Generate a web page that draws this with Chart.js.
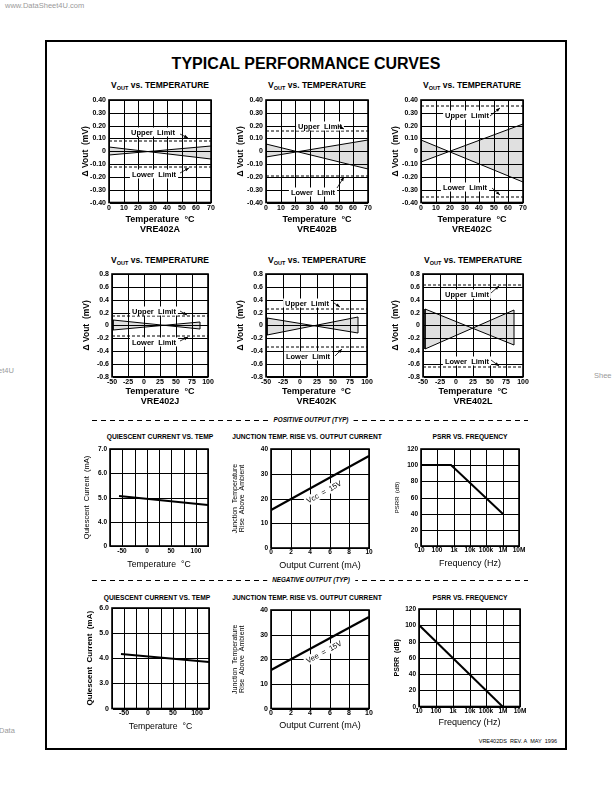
<!DOCTYPE html>
<html>
<head>
<meta charset="utf-8">
<title>VRE402 Typical Performance Curves</title>
<script src="https://cdn.jsdelivr.net/npm/chart.js@4.4.1/dist/chart.umd.min.js"></script>
<style>
  html, body { margin: 0; padding: 0; background: #fff; }
  body { position: relative; width: 612px; height: 792px; overflow: hidden; font-family: "Liberation Sans", Arial, sans-serif; color: #000; }
  canvas { position: absolute; }
  .t { position: absolute; white-space: nowrap; transform: translate(-50%, -50%); line-height: 1; }
  .sub { font-size: 5.5px; vertical-align: -1.5px; }
  .frame { position: absolute; left: 45px; top: 40px; width: 518px; height: 706px; border: 2px solid #000; }
  .sep { position: absolute; height: 1px; background: repeating-linear-gradient(to right, #000 0 5px, transparent 5px 9px); }
  .sepText { background: #fff; padding: 0 5px; font-size: 6.3px; font-weight: bold; font-style: italic; }
  .wm { position: absolute; color: #9a9a9a; font-size: 7.5px; white-space: nowrap; line-height: 1; }
</style>
</head>
<body>
<div class="wm" style="left:5px;top:2px">www.DataSheet4U.com</div>
<div class="wm" style="left:-2px;top:367px">et4U</div>
<div class="wm" style="left:594px;top:372px">Shee</div>
<div class="wm" style="left:-1px;top:727px">Data</div>
<div class="frame"></div>
<div class="t" style="left:306px;top:64px;font-size:16px;font-weight:bold">TYPICAL PERFORMANCE CURVES</div>

<div class="t" style="left:160px;top:86px;font-size:8.5px;font-weight:bold">V<span class="sub">OUT</span> vs. TEMPERATURE</div>
<div class="t" style="left:317px;top:86px;font-size:8.5px;font-weight:bold">V<span class="sub">OUT</span> vs. TEMPERATURE</div>
<div class="t" style="left:472px;top:86px;font-size:8.5px;font-weight:bold">V<span class="sub">OUT</span> vs. TEMPERATURE</div>
<div class="t" style="left:160px;top:261px;font-size:8.5px;font-weight:bold">V<span class="sub">OUT</span> vs. TEMPERATURE</div>
<div class="t" style="left:317px;top:261px;font-size:8.5px;font-weight:bold">V<span class="sub">OUT</span> vs. TEMPERATURE</div>
<div class="t" style="left:473px;top:261px;font-size:8.5px;font-weight:bold">V<span class="sub">OUT</span> vs. TEMPERATURE</div>

<div class="sep" style="left:92px;top:420px;width:436px"></div>
<div class="t sepText" style="left:311px;top:420px">POSITIVE OUTPUT (TYP)</div>
<div class="t" style="left:160px;top:437px;font-size:6.7px;font-weight:bold">QUIESCENT CURRENT VS. TEMP</div>
<div class="t" style="left:307px;top:437px;font-size:6.7px;font-weight:bold">JUNCTION TEMP. RISE VS. OUTPUT CURRENT</div>
<div class="t" style="left:470px;top:437px;font-size:6.7px;font-weight:bold">PSRR VS. FREQUENCY</div>

<div class="sep" style="left:92px;top:580px;width:436px"></div>
<div class="t sepText" style="left:311px;top:580px">NEGATIVE OUTPUT (TYP)</div>
<div class="t" style="left:157px;top:598px;font-size:6.7px;font-weight:bold">QUIESCENT CURRENT VS. TEMP</div>
<div class="t" style="left:307px;top:598px;font-size:6.7px;font-weight:bold">JUNCTION TEMP. RISE VS. OUTPUT CURRENT</div>
<div class="t" style="left:470px;top:598px;font-size:6.7px;font-weight:bold">PSRR VS. FREQUENCY</div>

<div class="wm" style="right:55px;top:739px;color:#000;font-size:5.5px">VRE402DS&nbsp; REV. A&nbsp; MAY&nbsp; 1996</div>

<script>
var FONT = '"Liberation Sans", Arial, sans-serif'
Chart.defaults.font.family = FONT
Chart.defaults.color = '#000'
Chart.defaults.animation = false

// ---- Vout vs temperature, VRE402A / B / C (0..70 C) ----
var tempABC = [0, 70]
var voutA1 = [0.03, -0.06]
var voutA2 = [-0.03, 0.04]
var limitsA = [0.08, -0.12]
var voutB1 = [0.055, -0.14]
var voutB2 = [-0.045, 0.09]
var limitsB = [0.16, -0.19]
var voutC1 = [0.09, -0.24]
var voutC2 = [-0.085, 0.21]
var limitsC = [0.35, -0.36]

// ---- Vout vs temperature, VRE402J / K / L ----
var tempJ = [-48, 88]
var voutJ1 = [0.08, -0.055]
var voutJ2 = [-0.075, 0.06]
var limitsJ = [0.15, -0.17]
var tempK = [-48, 86]
var voutK1 = [0.115, -0.115]
var voutK2 = [-0.155, 0.125]
var limitsK = [0.26, -0.34]
var tempL = [-47, 87]
var voutL1 = [0.25, -0.305]
var voutL2 = [-0.36, 0.24]
var limitsL = [0.63, -0.65]

// ---- quiescent current vs temp ----
var qTemp = [-57, 125]
var qCurrentPos = [5.07, 4.7]
var qCurrentNeg = [4.16, 3.84]
var qTempTicks = [-50, 0, 50, 100]

// ---- junction temp rise vs output current ----
var outCurrent = [0, 10]
var riseVcc = [15.5, 37]
var riseVee = [15.5, 37]

// ---- psrr vs frequency ----
var psrrFreqPos = [10, 700, 1e6]
var psrrPos = [100, 100, 40]
var psrrFreqNeg = [10, 1e6]
var psrrNeg = [100, 0]
var freqTicks = [10, 100, 1e3, 1e4, 1e5, 1e6, 1e7]
var freqLabels = ['10', '100', '1k', '10k', '100k', '1M', '10M']

function pts(xs, ys) {
  return xs.map(function(x, i) { return {x: x, y: ys[i]} })
}

function lineSet(xs, ys, w) {
  return {data: pts(xs, ys), borderColor: '#000', borderWidth: w || 1, pointRadius: 0, fill: false}
}

function limitSets(range, lims) {
  return lims.map(function(v) {
    var s = lineSet(range, [v, v], 1)
    s.borderDash = [3, 2]
    return s
  })
}

// two crossing lines with the grey band between them
// (translucent grey so the grid still shows through, like the print)
function band(xs, a, b, ends) {
  var lo = lineSet(xs, b, 1)
  lo.fill = '-1'
  lo.backgroundColor = 'rgba(0,0,0,0.12)'
  var sets = [lineSet(xs, a, 1), lo]
  if (ends) {
    sets.push({data: [{x: xs[0], y: a[0]}, {x: xs[0], y: b[0]}, {x: xs[0], y: null},
                      {x: xs[1], y: a[1]}, {x: xs[1], y: b[1]}],
               borderColor: '#000', borderWidth: 1, pointRadius: 0, fill: false})
  }
  return sets
}

// text labels + little arrows, placed in data units
function notesPlugin(notes) {
  return {
    id: 'notes',
    afterDatasetsDraw: function(chart) {
      var ctx = chart.ctx, xs = chart.scales.x, ys = chart.scales.y
      ctx.save()
      notes.forEach(function(n) {
        var px = xs.getPixelForValue(n.x), py = ys.getPixelForValue(n.y)
        var ang = 0
        if (n.along) {
          var ax = xs.getPixelForValue(n.along[0]), ay = ys.getPixelForValue(n.along[1])
          var bx = xs.getPixelForValue(n.along[2]), by = ys.getPixelForValue(n.along[3])
          ang = Math.atan2(by - ay, bx - ax)
        }
        ctx.save()
        ctx.translate(px, py)
        ctx.rotate(ang)
        ctx.font = (n.weight || 'bold') + ' ' + (n.size || 7.5) + 'px ' + FONT
        var w = ctx.measureText(n.text).width
        ctx.fillStyle = '#fff'
        ctx.fillRect(-w / 2 - 2, -4.5, w + 4, 9)
        ctx.fillStyle = '#000'
        ctx.textAlign = 'center'
        ctx.textBaseline = 'middle'
        ctx.fillText(n.text, 0, 0.5)
        ctx.restore()
        if (n.arrow) {
          var x1 = xs.getPixelForValue(n.arrow[0]), y1 = ys.getPixelForValue(n.arrow[1])
          var x2 = xs.getPixelForValue(n.arrow[2]), y2 = ys.getPixelForValue(n.arrow[3])
          var a = Math.atan2(y2 - y1, x2 - x1)
          ctx.strokeStyle = '#000'
          ctx.lineWidth = 0.8
          ctx.beginPath()
          ctx.moveTo(x1, y1)
          ctx.lineTo(x2, y2)
          ctx.stroke()
          ctx.fillStyle = '#000'
          ctx.beginPath()
          ctx.moveTo(x2, y2)
          ctx.lineTo(x2 - 4 * Math.cos(a) + 1.6 * Math.sin(a), y2 - 4 * Math.sin(a) - 1.6 * Math.cos(a))
          ctx.lineTo(x2 - 4 * Math.cos(a) - 1.6 * Math.sin(a), y2 - 4 * Math.sin(a) + 1.6 * Math.cos(a))
          ctx.closePath()
          ctx.fill()
        }
      })
      ctx.restore()
    }
  }
}

var framePlugin = {
  id: 'frame',
  afterDraw: function(chart) {
    var c = chart.chartArea, ctx = chart.ctx
    ctx.save()
    ctx.strokeStyle = '#000'
    ctx.lineWidth = 1.6
    ctx.strokeRect(c.left, c.top, c.right - c.left, c.bottom - c.top)
    ctx.restore()
  }
}

function makeChart(spec) {
  var box = spec.box, padTop = 8, padRight = 12
  var yLh = spec.yTitle.font.size * spec.yTitle.font.lineHeight
  var left = Math.round(spec.yTitleX - yLh / 2)
  var top = box[1] - padTop
  var yw = box[0] - left
  var xh = spec.xBottom - box[3]
  var cv = document.createElement('canvas')
  cv.width = box[2] - left + padRight
  cv.height = Math.round(box[3] + xh - top)
  cv.style.left = left + 'px'
  cv.style.top = top + 'px'
  document.body.appendChild(cv)

  var grid = {color: '#000', lineWidth: 1, drawTicks: false}
  var x = Object.assign({
    type: 'linear', alignToPixels: true, grid: grid,
    border: {color: '#000', width: 1},
    title: {display: true, padding: 0, color: '#000', text: spec.xTitle.text, font: spec.xTitle.font},
    afterFit: function(s) { s.height = xh }
  }, spec.x)
  x.ticks = Object.assign({color: '#000', font: spec.tickFont, padding: spec.xPad, autoSkip: false, maxRotation: 0}, spec.x.ticks)
  var y = Object.assign({
    type: 'linear', alignToPixels: true, grid: grid,
    border: {color: '#000', width: 1},
    title: {display: true, padding: 0, color: '#000', text: spec.yTitle.text, font: spec.yTitle.font},
    afterFit: function(s) { s.width = yw }
  }, spec.y)
  y.ticks = Object.assign({color: '#000', font: spec.tickFont, padding: 3, autoSkip: false}, spec.y.ticks)

  return new Chart(cv, {
    type: 'line',
    data: {datasets: spec.datasets},
    plugins: [notesPlugin(spec.notes || []), framePlugin],
    options: {
      responsive: false,
      animation: false,
      events: [],
      layout: {padding: {top: padTop, right: padRight, left: 0, bottom: 0}},
      plugins: {legend: {display: false}, tooltip: {enabled: false}},
      scales: {x: x, y: y}
    }
  })
}

function fmt(d) {
  return function(v) { return Math.abs(v) < 1e-9 ? '0' : v.toFixed(d) }
}

var tick7 = {family: FONT, size: 7, weight: 'bold', lineHeight: 1.2}
var deltaTitle = {text: '\u0394 Vout  (mV)', font: {family: FONT, size: 8.5, weight: 'bold', lineHeight: 1.2}}

function tempTitle(grade) {
  return {text: ['Temperature  \u00b0C', grade], font: {family: FONT, size: 9, weight: 'bold', lineHeight: 1.05}}
}

// row 1: A, B, C
var row1 = [
  {box: [109, 100, 211, 202], yTitleX: 86, grade: 'VRE402A', s1: voutA1, s2: voutA2, lim: limitsA,
   notes: [{text: 'Upper  Limit', x: 30, y: 0.15, arrow: [49, 0.137, 54, 0.10]},
           {text: 'Lower  Limit', x: 31, y: -0.18, arrow: [49, -0.17, 55, -0.13]}]},
  {box: [266, 100, 368, 202], yTitleX: 241, grade: 'VRE402B', s1: voutB1, s2: voutB2, lim: limitsB,
   notes: [{text: 'Upper  Limit', x: 37, y: 0.2, arrow: [49.5, 0.2, 53.5, 0.17]},
           {text: 'Lower  Limit', x: 32, y: -0.32, arrow: [49, -0.29, 53.5, -0.2]}]},
  {box: [421, 100, 523, 202], yTitleX: 396, grade: 'VRE402C', s1: voutC1, s2: voutC2, lim: limitsC,
   notes: [{text: 'Upper  Limit', x: 31.6, y: 0.283, arrow: [47.6, 0.277, 54.5, 0.335]},
           {text: 'Lower  Limit', x: 30.4, y: -0.277, arrow: [48.7, -0.29, 54.4, -0.345]}]}
]
row1.forEach(function(c) {
  makeChart({
    box: c.box, yTitleX: c.yTitleX, xBottom: 233.5, xPad: 1.8, tickFont: tick7,
    yTitle: deltaTitle, xTitle: tempTitle(c.grade),
    x: {min: 0, max: 70, ticks: {stepSize: 10}},
    y: {min: -0.4, max: 0.4, ticks: {stepSize: 0.1, callback: fmt(2)}},
    datasets: band(tempABC, c.s1, c.s2, false).concat(limitSets(tempABC, c.lim)),
    notes: c.notes
  })
})

// row 2: J, K, L
var row2 = [
  {box: [112, 274, 208, 377], yTitleX: 87, grade: 'VRE402J', t: tempJ, s1: voutJ1, s2: voutJ2, lim: limitsJ,
   notes: [{text: 'Upper  Limit', x: 15, y: 0.23, arrow: [56, 0.217, 67, 0.155]},
           {text: 'Lower  Limit', x: 15, y: -0.26, arrow: [57, -0.248, 68, -0.18]}]},
  {box: [266, 274, 367, 377], yTitleX: 241, grade: 'VRE402K', t: tempK, s1: voutK1, s2: voutK2, lim: limitsK,
   notes: [{text: 'Upper  Limit', x: 11, y: 0.346, arrow: [50.5, 0.346, 60, 0.28]},
           {text: 'Lower  Limit', x: 13, y: -0.47, arrow: [52, -0.47, 62.7, -0.36]}]},
  {box: [423, 274, 523, 377], yTitleX: 396, grade: 'VRE402L', t: tempL, s1: voutL1, s2: voutL2, lim: limitsL,
   notes: [{text: 'Upper  Limit', x: 16, y: 0.49, arrow: [52.5, 0.51, 63.5, 0.62]},
           {text: 'Lower  Limit', x: 16, y: -0.556, arrow: [52.5, -0.54, 63.5, -0.63]}]}
]
row2.forEach(function(c) {
  makeChart({
    box: c.box, yTitleX: c.yTitleX, xBottom: 406.2, xPad: 0.8, tickFont: tick7,
    yTitle: deltaTitle, xTitle: tempTitle(c.grade),
    x: {min: -50, max: 100, ticks: {stepSize: 25}},
    y: {min: -0.8, max: 0.8, ticks: {stepSize: 0.2, callback: fmt(1)}},
    datasets: band(c.t, c.s1, c.s2, true).concat(limitSets([-50, 100], c.lim)),
    notes: c.notes
  })
})

// rows 3 and 4: positive / negative output
function quiescent(box, yTitleX, xBottom, xPad, yMin, current, titleFont, tickFont) {
  makeChart({
    box: box, yTitleX: yTitleX, xBottom: xBottom, xPad: xPad, tickFont: tickFont,
    yTitle: {text: 'Quiescent  Current  (mA)', font: titleFont},
    xTitle: {text: 'Temperature  \u00b0C', font: {family: FONT, size: 8.7, lineHeight: 1.2}},
    x: {min: -75, max: 125, ticks: {stepSize: 25, callback: function(v) { return qTempTicks.indexOf(v) >= 0 ? String(v) : '' }}},
    y: {min: yMin, max: yMin + 4, ticks: {stepSize: 1, callback: function(v) { return v === yMin ? '0' : v.toFixed(1) }}},
    datasets: [lineSet(qTemp, current, 2)]
  })
}

function junction(box, xBottom, xPad, rise, label, tickFont) {
  makeChart({
    box: box, yTitleX: 235, xBottom: xBottom, xPad: xPad, tickFont: tickFont,
    yTitle: {text: ['Junction  Temperature', 'Rise  Above  Ambient'], font: {family: FONT, size: 7, lineHeight: 0.95}},
    xTitle: {text: 'Output Current (mA)', font: {family: FONT, size: 9, lineHeight: 1.2}},
    x: {min: 0, max: 10, ticks: {stepSize: 2}},
    y: {min: 0, max: 40, ticks: {stepSize: 10}},
    datasets: [lineSet(outCurrent, rise, 2.4)],
    notes: [{text: label, x: 5.4, y: 22.8, size: 7.5, weight: 'normal',
             along: [outCurrent[0], rise[0], outCurrent[1], rise[1]]}]
  })
}

function psrr(box, xBottom, xPad, freq, db, titleFont, tickFont) {
  makeChart({
    box: box, yTitleX: 397.5, xBottom: xBottom, xPad: xPad, tickFont: tickFont,
    yTitle: {text: 'PSRR  (dB)', font: titleFont},
    xTitle: {text: 'Frequency (Hz)', font: {family: FONT, size: 9, lineHeight: 1.2}},
    x: {type: 'logarithmic', min: 10, max: 1e7,
        afterBuildTicks: function(s) { s.ticks = freqTicks.map(function(v) { return {value: v} }) },
        ticks: {callback: function(v) { var i = freqTicks.indexOf(v); return i >= 0 ? freqLabels[i] : '' }}},
    y: {min: 0, max: 120, ticks: {stepSize: 20}},
    datasets: [lineSet(freq, db, 2)]
  })
}

var tick65 = {family: FONT, size: 6.5, weight: 'bold', lineHeight: 1.2}

quiescent([110, 449, 208, 546], 86, 570, 1.5, 3, qCurrentPos, {family: FONT, size: 7.5, lineHeight: 1.2}, tick65)
junction([271, 449, 369, 548], 571, 0.3, riseVcc, 'Vcc  =  15V', tick65)
psrr([421, 449, 519, 546], 569, 0.5, psrrFreqPos, psrrPos, {family: FONT, size: 6, lineHeight: 1.2}, tick65)

quiescent([112, 608, 209, 708], 90, 731.5, 0.3, 2, qCurrentNeg, {family: FONT, size: 8, weight: 'bold', lineHeight: 1.2}, tick7)
junction([271, 610, 369, 708], 730.5, 0.4, riseVee, 'Vee  =  15V', tick7)
psrr([419, 609, 520, 706], 727.5, 0.8, psrrFreqNeg, psrrNeg, {family: FONT, size: 7, weight: 'bold', lineHeight: 1.2}, tick65)
</script>
</body>
</html>
